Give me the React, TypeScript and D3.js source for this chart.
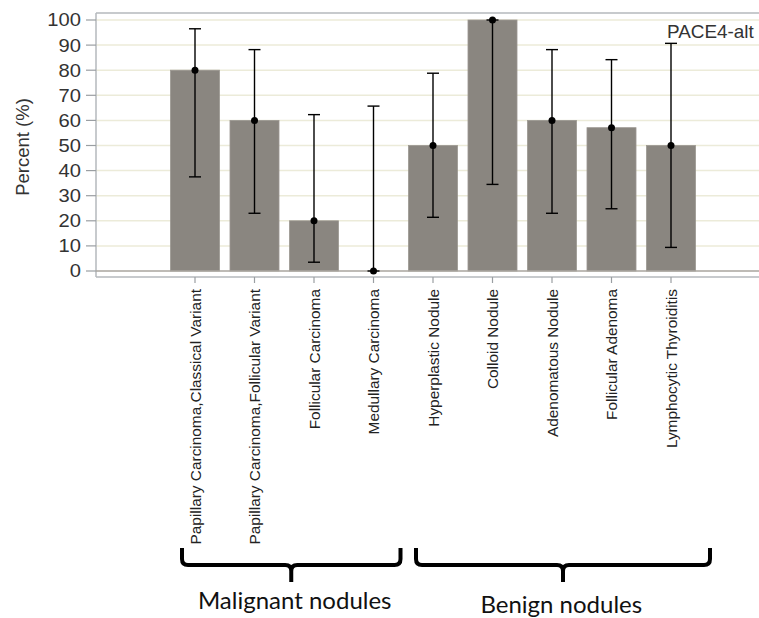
import React from "react";
import * as d3 from "d3";

const categories = [
  "Papillary Carcinoma,Classical Variant",
  "Papillary Carcinoma,Follicular Variant",
  "Follicular Carcinoma",
  "Medullary Carcinoma",
  "Hyperplastic Nodule",
  "Colloid Nodule",
  "Adenomatous Nodule",
  "Follicular Adenoma",
  "Lymphocytic Thyroiditis",
];
const percent = [80, 60, 20, 0, 50, 100, 60, 57.1, 50];
const lower = [37.5, 23.0, 3.5, 0, 21.4, 34.5, 23.0, 24.8, 9.4];
const upper = [96.5, 88.2, 62.3, 65.7, 78.8, 100, 88.2, 84.2, 90.7];
const yTicks = [0, 10, 20, 30, 40, 50, 60, 70, 80, 90, 100];
const groups = [
  { label: "Malignant nodules", first: 0, last: 3 },
  { label: "Benign nodules", first: 4, last: 8 },
];

const W = 759;
const H = 618;
const plotLeft = 96;
const plotTop = 13;
const plotBottom = 277;

export default function App() {
  const y = d3.scaleLinear().domain([0, 100]).range([271, 20]);
  const x = d3
    .scaleBand<string>()
    .domain(categories)
    .range([165.25, 700.75])
    .paddingInner(0.176)
    .paddingOuter(0.088);
  const bw = x.bandwidth();
  const cx = (i: number) => (x(categories[i]) as number) + bw / 2;
  const axisFont = "'Liberation Sans', Arial, sans-serif";
  const braceFont = "Lato, 'Open Sans', sans-serif";

  const bracePath = (x0: number, x1: number) => {
    const xc = (x0 + x1) / 2;
    const yt = 548, yh = 565, yb = 582, r = 6;
    return `M${x0},${yt} L${x0},${yh - r} Q${x0},${yh} ${x0 + r},${yh} L${xc - r},${yh} Q${xc},${yh} ${xc},${yh + r} L${xc},${yb} M${xc},${yh + r} Q${xc},${yh} ${xc + r},${yh} L${x1 - r},${yh} Q${x1},${yh} ${x1},${yh - r} L${x1},${yt}`;
  };

  const braceExtents = [
    [cx(0) - 13, cx(3) + 27],
    [cx(4) - 17, cx(8) + 39],
  ];

  return (
    <svg
      width={W}
      height={H}
      style={{ position: "absolute", left: 0, top: 0, background: "#fff" }}
    >
      {/* gridlines */}
      {yTicks.filter((t) => t > 0).map((t) => (
        <line key={t} x1={plotLeft} x2={W} y1={y(t)} y2={y(t)} stroke="#ecebd9" strokeWidth={1.5} />
      ))}
      {/* frame */}
      <line x1={plotLeft} x2={W} y1={plotTop} y2={plotTop} stroke="#b4b8bc" strokeWidth={1.5} />
      <line x1={plotLeft} x2={W} y1={plotBottom} y2={plotBottom} stroke="#b4b8bc" strokeWidth={1.5} />
      <line x1={plotLeft} x2={plotLeft} y1={plotTop} y2={plotBottom} stroke="#b4b8bc" strokeWidth={1.5} />
      {/* bars */}
      {percent.map((v, i) => (
        <rect
          key={i}
          x={x(categories[i])}
          y={y(v)}
          width={bw}
          height={y(0) - y(v)}
          fill="#8a8680"
          stroke="#9c9892"
          strokeWidth={0.8}
        />
      ))}
      {/* zero line */}
      <line x1={plotLeft} x2={W} y1={y(0)} y2={y(0)} stroke="#a9a59e" strokeWidth={1.5} />
      {/* error bars */}
      {percent.map((v, i) => (
        <g key={i} stroke="#000" strokeWidth={1.4}>
          <line x1={cx(i)} x2={cx(i)} y1={y(upper[i])} y2={y(lower[i])} />
          <line x1={cx(i) - 6} x2={cx(i) + 6} y1={y(upper[i])} y2={y(upper[i])} />
          <line x1={cx(i) - 6} x2={cx(i) + 6} y1={y(lower[i])} y2={y(lower[i])} />
          <circle cx={cx(i)} cy={y(v)} r={3.5} fill="#000" stroke="none" />
        </g>
      ))}
      {/* y axis ticks */}
      {yTicks.map((t) => (
        <g key={t}>
          <line x1={86} x2={plotLeft} y1={y(t)} y2={y(t)} stroke="#9a9ea2" strokeWidth={1.2} />
          <text
            transform={`translate(81,${y(t)}) scale(1.12,1)`}
            dy="0.36em"
            textAnchor="end"
            fontFamily={axisFont}
            fontSize={18}
            fill="#333"
          >
            {t}
          </text>
        </g>
      ))}
      <text
        transform={`translate(23,147) rotate(-90)`}
        textAnchor="middle"
        dy="0.35em"
        fontFamily={axisFont}
        fontSize={18.5}
        fill="#333"
      >
        Percent (%)
      </text>
      <text
        transform="translate(667,38) scale(1.05,1)"
        fontFamily={axisFont}
        fontSize={18}
        fill="#333"
      >
        PACE4-alt
      </text>
      {/* x ticks and labels */}
      {categories.map((c, i) => (
        <g key={c}>
          <line x1={cx(i)} x2={cx(i)} y1={plotBottom} y2={283} stroke="#9a9ea2" strokeWidth={1.2} />
          <text
            transform={`translate(${cx(i)},289) rotate(-90)`}
            textAnchor="end"
            dy="0.36em"
            fontFamily={axisFont}
            fontSize={15.4}
            fill="#222"
          >
            {c}
          </text>
        </g>
      ))}
      {/* braces */}
      {groups.map((g, gi) => {
        const [x0, x1] = braceExtents[gi];
        return (
          <g key={g.label}>
            <path d={bracePath(x0, x1)} fill="none" stroke="#000" strokeWidth={4} strokeLinejoin="round" />
            <text
              x={gi === 0 ? 294.7 : 561.3}
              y={gi === 0 ? 609 : 613}
              textAnchor="middle"
              fontFamily={braceFont}
              fontSize={24}
              fill="#111"
            >
              {g.label}
            </text>
          </g>
        );
      })}
    </svg>
  );
}
